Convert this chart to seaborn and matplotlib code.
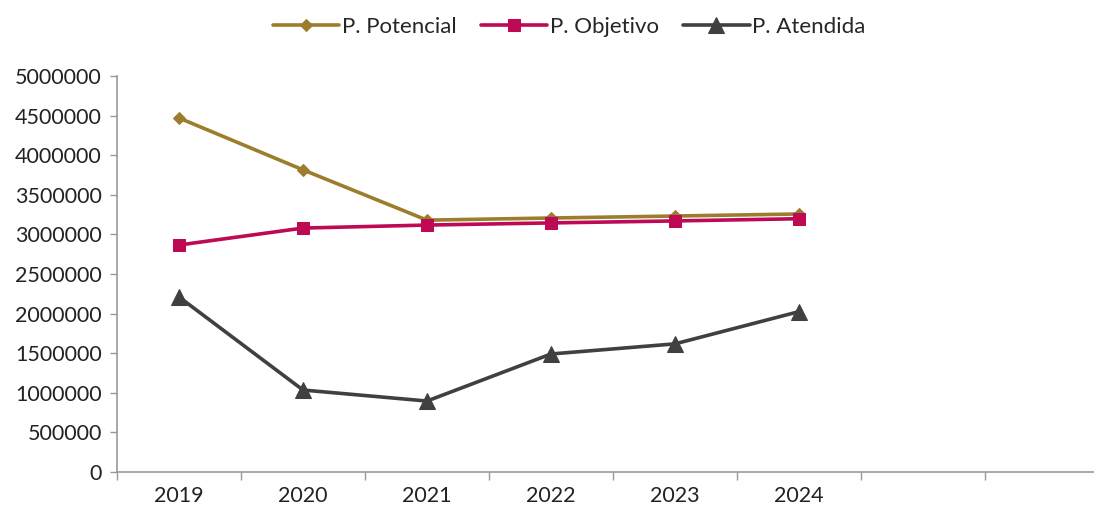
import matplotlib
matplotlib.use("Agg")
import matplotlib.pyplot as plt
import numpy as np
import pandas as pd
import seaborn as sns

# datos
years = ['2019', '2020', '2021', '2022', '2023', '2024']
potencial = [4470000, 3815000, 3180000, 3207000, 3232000, 3258000]
objetivo = [2866000, 3080000, 3118000, 3145000, 3170000, 3198000]
atendida = [2210000, 1035000, 896000, 1490000, 1618000, 2025000]
n_slots = 8  # el eje tiene 8 categorías, las dos últimas vacías

sns.set_theme(style='white')
plt.rcParams['font.family'] = ['Lato', 'DejaVu Sans']

df = pd.DataFrame({
    'x': list(range(len(years))) * 3,
    'valor': potencial + objetivo + atendida,
    'serie': ['P. Potencial'] * 6 + ['P. Objetivo'] * 6 + ['P. Atendida'] * 6,
})

fig = plt.figure(figsize=(10.94, 5.08), dpi=100)
ax = fig.add_axes([117 / 1094, 36 / 508, 992 / 1094, 396 / 508])

estilos = {
    'P. Potencial': dict(color='#9C7D2B', marker='D', markersize=6),
    'P. Objetivo': dict(color='#BE0A55', marker='s', markersize=8),
    'P. Atendida': dict(color='#404040', marker='^', markersize=11),
}
for nombre, st in estilos.items():
    sub = df[df['serie'] == nombre]
    sns.lineplot(data=sub, x='x', y='valor', ax=ax, label=nombre,
                 color=st['color'], marker=st['marker'], markersize=st['markersize'],
                 markeredgecolor=st['color'], linewidth=2.6)

ax.set_xlim(-0.5, n_slots - 0.5)
ax.set_ylim(0, 5000000)
ax.set_yticks(np.arange(0, 5000001, 500000))
ax.set_yticklabels([str(v) for v in range(0, 5000001, 500000)])
ax.set_xticks(range(len(years)))
ax.set_xticklabels(years)
ax.set_xticks(np.arange(-0.5, n_slots, 1), minor=True)
ax.tick_params(axis='x', which='major', bottom=True, length=0, pad=10, labelsize=15.5,
               colors='#222222')
ax.tick_params(axis='x', which='minor', bottom=True, length=6, width=1, color='#999999',
               direction='out')
ax.tick_params(axis='y', left=True, length=5, width=1, direction='out', labelsize=15.5,
               labelcolor='#222222', color='#999999', pad=6)
ax.set_xlabel('')
ax.set_ylabel('')
for s in ['top', 'right']:
    ax.spines[s].set_visible(False)
for s in ['left', 'bottom']:
    ax.spines[s].set_color('#999999')
    ax.spines[s].set_linewidth(1.2)

ax.legend(loc='upper center', bbox_to_anchor=(452 / 992, 1 + 79 / 396), ncol=3, frameon=False,
          fontsize=16, handlelength=3.0, handletextpad=0.1, columnspacing=1.1)

fig.savefig('out.png', dpi=100)
